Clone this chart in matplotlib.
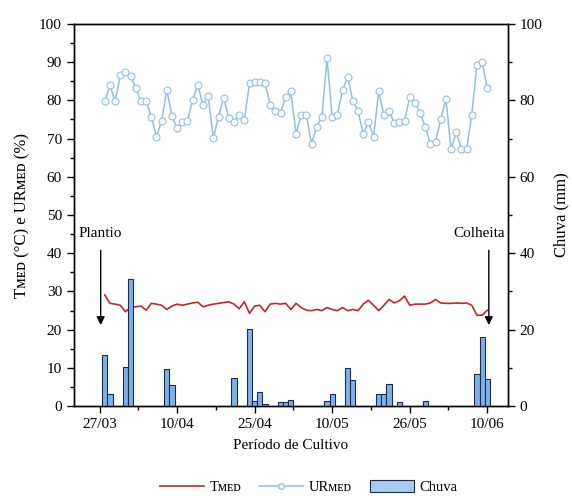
import numpy as np
import matplotlib.pyplot as plt
from matplotlib.ticker import MultipleLocator
from matplotlib.patches import Patch
from matplotlib.lines import Line2D

plt.rcParams['font.family'] = ['Liberation Serif', 'DejaVu Serif']
plt.rcParams['font.size'] = 11

# dias apos 27/03
dias = np.arange(1, 76)

t_med = [29.1, 26.9, 26.7, 26.4, 24.7, 25.9, 26.0, 26.2, 25.1, 26.9,
         26.7, 26.4, 25.3, 26.2, 26.7, 26.4, 26.7, 27.0, 27.2, 26.0,
         26.4, 26.7, 26.9, 27.1, 27.3, 26.7, 25.5, 27.3, 24.3, 26.2,
         26.4, 24.7, 26.7, 26.9, 26.7, 26.9, 25.3, 26.9, 25.8, 25.1,
         25.0, 25.3, 25.0, 25.8, 25.3, 25.0, 25.8, 25.0, 25.3, 25.0,
         26.7, 27.7, 26.4, 25.0, 26.4, 27.9, 27.0, 27.6, 28.8, 26.4,
         26.7, 26.7, 26.7, 27.0, 27.9, 27.0, 26.9, 26.9, 27.0, 26.9,
         27.0, 26.4, 23.8, 23.8, 25.1]

ur_med = [79.7, 83.9, 79.7, 86.6, 87.3, 86.4, 83.2, 79.7, 79.7, 75.7,
          70.5, 74.6, 82.7, 75.9, 72.7, 74.2, 74.6, 80.1, 83.9, 78.8,
          81.2, 70.1, 75.7, 80.7, 75.3, 74.2, 76.2, 74.9, 84.5, 84.7,
          84.7, 84.5, 78.8, 77.2, 76.8, 80.8, 82.3, 71.2, 76.2, 76.2,
          68.6, 73.1, 75.6, 91.0, 75.6, 76.2, 82.7, 86.2, 79.7, 77.3,
          71.1, 74.4, 70.5, 82.3, 76.2, 77.3, 74.0, 74.4, 74.7, 80.8,
          79.2, 76.8, 73.1, 68.6, 69.2, 75.1, 80.3, 67.2, 71.8, 67.2,
          67.2, 76.2, 89.3, 90.1, 83.2]

chuva_dias = [1, 2, 5, 6, 13, 14, 26, 29, 30, 31, 32, 35, 36, 37, 44, 45,
              48, 49, 54, 55, 56, 58, 63, 73, 74, 75]
chuva_mm = [13.5, 3.3, 10.3, 33.2, 9.8, 5.5, 7.4, 20.3, 1.3, 3.7, 0.7, 1.0,
            1.0, 1.6, 1.3, 3.3, 10.1, 6.8, 3.3, 3.3, 5.7, 1.0, 1.3, 8.4,
            18.2, 7.1]

tick_pos = [0, 15, 30, 45, 60, 75]
tick_labels = ['27/03', '10/04', '25/04', '10/05', '26/05', '10/06']

red = '#c0282d'
light_blue = '#92bfe6'
bar_fill = '#7eb1e8'
bar_edge = '#1c2c4c'

fig = plt.figure(figsize=(5.72, 4.96), dpi=100)
ax1 = fig.add_axes([0.129, 0.181, 0.759, 0.771])
ax2 = ax1.twinx()

ax1.plot(dias, t_med, color=red, lw=1.2)
ax1.plot(dias, ur_med, color=light_blue, lw=1.1, marker='o', ms=5,
         mfc='white', mec=light_blue, mew=0.8)

ax2.bar(chuva_dias, chuva_mm, width=1.0, color=bar_fill, edgecolor=bar_edge,
        linewidth=0.8)

ax1.set_xlim(-5, 79)
ax1.set_ylim(0, 100)
ax2.set_ylim(0, 100)

ax1.set_xticks(tick_pos)
ax1.set_xticklabels(tick_labels)
ax1.xaxis.set_minor_locator(MultipleLocator(7.5))
ax1.yaxis.set_major_locator(MultipleLocator(10))
ax1.yaxis.set_minor_locator(MultipleLocator(5))
ax2.yaxis.set_major_locator(MultipleLocator(20))
ax2.yaxis.set_minor_locator(MultipleLocator(10))

for ax in (ax1, ax2):
    ax.tick_params(which='major', direction='out', length=5, width=1)
    ax.tick_params(which='minor', direction='out', length=3, width=1)
    for s in ax.spines.values():
        s.set_linewidth(1.0)

ax1.set_ylabel('Tᴍᴇᴅ (°C) e URᴍᴇᴅ (%)', fontsize=12, labelpad=6)
ax2.set_ylabel('Chuva (mm)', fontsize=12, labelpad=8)
ax1.set_xlabel('Período de Cultivo', fontsize=11, labelpad=6)

arrow = dict(arrowstyle='-|>', color='black', lw=1.0, mutation_scale=12)
ax1.annotate('', xy=(0.2, 20.5), xytext=(0.2, 41.5), arrowprops=arrow)
ax1.text(0.2, 43.5, 'Plantio', ha='center', va='bottom', fontsize=11)
ax1.annotate('', xy=(75.3, 20.5), xytext=(75.3, 41.5), arrowprops=arrow)
ax1.text(73.5, 43.5, 'Colheita', ha='center', va='bottom', fontsize=11)

handles = [Line2D([], [], color=red, lw=1.2),
           Line2D([], [], color=light_blue, lw=1.1, marker='o', ms=4,
                  mfc='white', mec=light_blue),
           Patch(facecolor='#a6cbf0', edgecolor=bar_edge, lw=0.8)]
fig.legend(handles, ['Tᴍᴇᴅ', 'URᴍᴇᴅ', 'Chuva'], loc='center',
           bbox_to_anchor=(0.54, 0.018), ncol=3, frameon=False, fontsize=10.5,
           handlelength=3.0, handleheight=0.9, columnspacing=1.2,
           handletextpad=0.4)

fig.savefig('out.png', dpi=100)
